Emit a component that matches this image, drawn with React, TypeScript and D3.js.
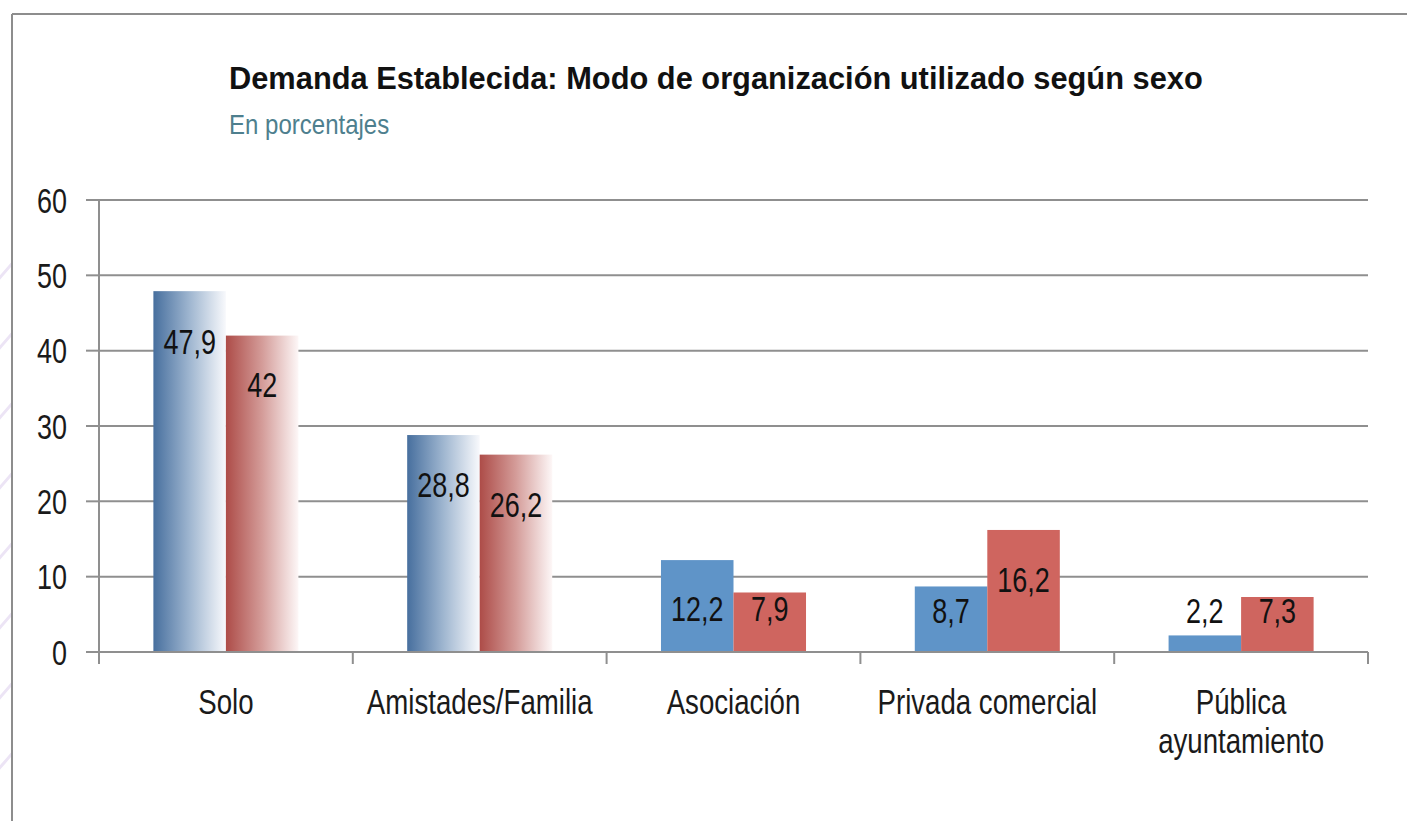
import React, { useEffect } from "react";
import * as d3 from "d3";

const categories = ["Solo", "Amistades/Familia", "Asociación", "Privada comercial", "Pública\nayuntamiento"];
const seriesNames = ["Hombres", "Mujeres"];
const hombres = [47.9, 28.8, 12.2, 8.7, 2.2];
const mujeres = [42, 26.2, 7.9, 16.2, 7.3];
const hombresLabels = ["47,9", "28,8", "12,2", "8,7", "2,2"];
const mujeresLabels = ["42", "26,2", "7,9", "16,2", "7,3"];
// label baseline position (in axis units)
const hombresLabelAt = [39.6, 20.6, 4.1, 3.85, 3.85];
const mujeresLabelAt = [33.9, 17.9, 4.1, 8.0, 3.85];
const yTicks = [0, 10, 20, 30, 40, 50, 60];
const title = "Demanda Establecida: Modo de organización utilizado según sexo";
const subtitle = "En porcentajes";

const W = 1407;
const H = 821;
const FONT = "'Liberation Sans', Arial, Helvetica, sans-serif";
const SX = 0.77;

export default function App() {
  useEffect(() => {
    document.body.style.margin = "0";
  }, []);

  const left = 99, right = 1368, top = 200, bottom = 652;
  const x = d3.scaleBand<string>().domain(categories).range([left, right]).padding(0);
  const xs = d3.scaleBand<string>().domain(seriesNames).range([0, x.bandwidth()]).paddingInner(0).paddingOuter(0.75);
  const y = d3.scaleLinear().domain([0, 60]).range([bottom, top]);

  const series = [
    { name: seriesNames[0], values: hombres, labels: hombresLabels, at: hombresLabelAt, solid: "#5f94c8", grad: "gBlue" },
    { name: seriesNames[1], values: mujeres, labels: mujeresLabels, at: mujeresLabelAt, solid: "#cf655f", grad: "gRed" },
  ];
  const gradientCats = new Set([categories[0], categories[1]]);

  const condensed = (tx: number, ty: number, sx = SX) => `translate(${tx},${ty}) scale(${sx},1)`;

  return (
    <svg width={W} height={H} style={{ display: "block", position: "absolute", left: 0, top: 0, background: "#fff" }}>
      <defs>
        <linearGradient id="gBlue" x1="0" x2="1" y1="0" y2="0">
          <stop offset="0" stopColor="#476f9e" />
          <stop offset="0.5" stopColor="#9fb6d0" />
          <stop offset="1" stopColor="#f8f9fc" />
        </linearGradient>
        <linearGradient id="gRed" x1="0" x2="1" y1="0" y2="0">
          <stop offset="0" stopColor="#ad4c48" />
          <stop offset="0.5" stopColor="#d49c99" />
          <stop offset="1" stopColor="#fdf7f7" />
        </linearGradient>
        <clipPath id="leftClip">
          <rect x={0} y={0} width={11} height={H} />
        </clipPath>
      </defs>
      <rect x={0} y={0} width={W} height={H} fill="#fff" />
      {/* faint decorative background at the left edge */}
      <g clipPath="url(#leftClip)" fill="none" stroke="#ece4f5" strokeWidth={3}>
        {[260, 330, 400, 470, 540, 610, 680, 750].map((c, i) => (
          <path key={i} d={`M-40,${c + 60} Q20,${c} 60,${c - 60}`} />
        ))}
      </g>
      {/* frame */}
      <line x1={12} y1={14} x2={W} y2={14} stroke="#8d8d8d" strokeWidth={2} />
      <line x1={12} y1={14} x2={12} y2={H} stroke="#8d8d8d" strokeWidth={2} />

      <text x={229} y={89} fontFamily={FONT} fontWeight="bold" fontSize={30.8} fill="#111">{title}</text>
      <text transform={condensed(229, 134, 0.89)} fontFamily={FONT} fontSize={27} fill="#4e7f8e">{subtitle}</text>

      {/* grid */}
      {yTicks.map((t) => (
        <g key={t}>
          {t > 0 && <line x1={left} x2={right} y1={y(t)} y2={y(t)} stroke="#8f8f8f" strokeWidth={2} />}
          <line x1={left - 13} x2={left} y1={y(t)} y2={y(t)} stroke="#8f8f8f" strokeWidth={2} />
          <text transform={condensed(67, y(t) + 12.5)} textAnchor="end" fontFamily={FONT} fontSize={35} fill="#1a1a1a">{t}</text>
        </g>
      ))}

      {/* bars */}
      {series.map((s) => (
        <g key={s.name}>
          {categories.map((c, i) => (
            <rect
              key={c}
              x={(x(c) as number) + (xs(s.name) as number)}
              y={y(s.values[i])}
              width={xs.bandwidth()}
              height={y(0) - y(s.values[i])}
              fill={gradientCats.has(c) ? `url(#${s.grad})` : s.solid}
            />
          ))}
        </g>
      ))}

      {/* axes */}
      <line x1={left} x2={left} y1={top} y2={bottom} stroke="#8f8f8f" strokeWidth={2} />
      <line x1={left - 13} x2={right} y1={bottom} y2={bottom} stroke="#8f8f8f" strokeWidth={2} />
      {[...categories.map((c) => x(c) as number), right].map((v, i) => (
        <line key={i} x1={v} x2={v} y1={bottom} y2={bottom + 12} stroke="#8f8f8f" strokeWidth={2} />
      ))}

      {/* value labels */}
      {series.map((s) => (
        <g key={s.name + "l"}>
          {categories.map((c, i) => (
            <text
              key={c}
              transform={condensed((x(c) as number) + (xs(s.name) as number) + xs.bandwidth() / 2, y(s.at[i]))}
              textAnchor="middle"
              fontFamily={FONT}
              fontSize={35}
              fill="#111"
            >
              {s.labels[i]}
            </text>
          ))}
        </g>
      ))}

      {/* category labels */}
      {categories.map((c) => (
        <g key={c + "c"}>
          {c.split("\n").map((line, j) => (
            <text
              key={j}
              transform={condensed((x(c) as number) + x.bandwidth() / 2, 714 + j * 39, 0.79)}
              textAnchor="middle"
              fontFamily={FONT}
              fontSize={35}
              fill="#1a1a1a"
            >
              {line}
            </text>
          ))}
        </g>
      ))}
    </svg>
  );
}
